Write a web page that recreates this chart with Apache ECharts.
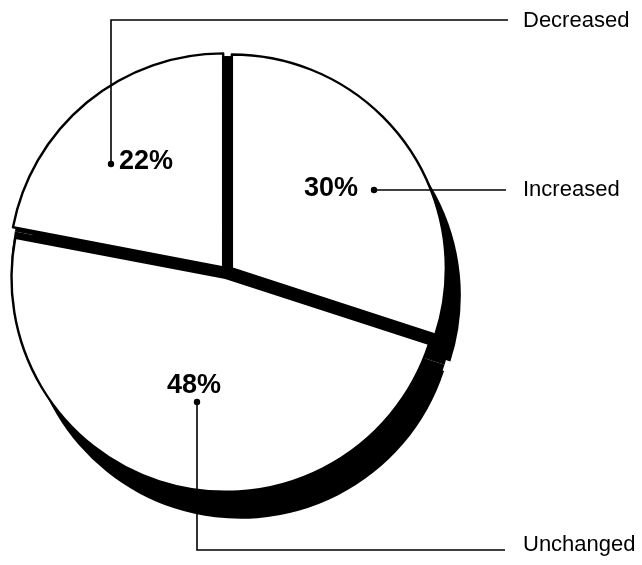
<!DOCTYPE html>
<html>
<head>
<meta charset="utf-8">
<script src="https://cdn.jsdelivr.net/npm/echarts@6/dist/echarts.min.js"></script>
<style>
html,body{margin:0;padding:0;background:#fff;}
#chart{width:642px;height:565px;}
</style>
</head>
<body>
<div id="chart"></div>
<script>
// ---- data ----
const categories = ['Increased', 'Unchanged', 'Decreased'];
const values = [30, 48, 22];

// ---- layout (annotation positions in px) ----
const CENTER = [227, 272];
const RADIUS = 214;
const SHADOW_SHIFT = [15, 27];
const EXPLODE = 6;
const annot = [
  { pct: [331, 189], dot: [374, 190], mid: [440, 190], end: [506, 190], name: [523, 190] },
  { pct: [194, 386], dot: [197, 402], mid: [197, 550], end: [505, 550], name: [523, 545] },
  { pct: [146, 162], dot: [111, 164], mid: [111, 20],  end: [508, 20],  name: [523, 21] }
];

const FONT = '"Liberation Sans", Arial, Helvetica, sans-serif';
const SHADOW_CENTER = [CENTER[0] + SHADOW_SHIFT[0], CENTER[1] + SHADOW_SHIFT[1]];

function sliceData(selected) {
  return categories.map((c, i) => ({ name: c, value: values[i], selected: selected }));
}

const chart = echarts.init(document.getElementById('chart'), null, { renderer: 'canvas' });

const common = {
  type: 'pie',
  startAngle: 90,
  clockwise: true,
  radius: [0, RADIUS],
  avoidLabelOverlap: false,
  emphasis: { disabled: true },
  animation: false
};

const blackNoLabel = {
  silent: true,
  label: { show: false },
  labelLine: { show: false },
  itemStyle: { color: '#000', borderWidth: 0 },
  select: { itemStyle: { color: '#000', borderWidth: 0 } }
};

chart.setOption({
  backgroundColor: '#fff',
  animation: false,
  series: [
    // shadow base (non-exploded, shifted)
    Object.assign({}, common, blackNoLabel, {
      name: 'shadowBase',
      z: 1,
      center: SHADOW_CENTER,
      radius: [0, RADIUS - 1],
      data: sliceData(false)
    }),
    // shadow (exploded black slices, shifted)
    Object.assign({}, common, blackNoLabel, {
      name: 'shadow',
      z: 1,
      center: SHADOW_CENTER,
      selectedMode: 'multiple',
      selectedOffset: EXPLODE,
      data: sliceData(true)
    }),
    // black base disk showing through the gaps
    Object.assign({}, common, blackNoLabel, {
      name: 'base',
      z: 2,
      center: CENTER,
      radius: [0, RADIUS + 2],
      data: sliceData(false)
    }),
    // white exploded slices
    Object.assign({}, common, {
      name: 'slices',
      z: 3,
      center: CENTER,
      selectedMode: 'multiple',
      selectedOffset: EXPLODE,
      silent: true,
      itemStyle: { color: '#fff', borderColor: '#000', borderWidth: 2.4 },
      select: { itemStyle: { color: '#fff', borderColor: '#000', borderWidth: 2.4 } },
      label: { show: false },
      labelLine: { show: false },
      data: sliceData(true)
    }),
    // percentage labels
    Object.assign({}, common, {
      name: 'percent',
      z: 10,
      center: CENTER,
      silent: true,
      itemStyle: { color: 'rgba(0,0,0,0)', borderWidth: 0 },
      label: {
        show: true,
        position: 'outside',
        formatter: p => p.value + '%',
        fontFamily: FONT,
        fontWeight: 'bold',
        fontSize: 27,
        color: '#000'
      },
      labelLine: { show: false },
      labelLayout: p => ({
        x: annot[p.dataIndex].pct[0],
        y: annot[p.dataIndex].pct[1],
        align: 'center',
        verticalAlign: 'middle'
      }),
      data: sliceData(false)
    }),
    // category names with elbow leader lines
    Object.assign({}, common, {
      name: 'names',
      z: 10,
      center: CENTER,
      silent: true,
      itemStyle: { color: 'rgba(0,0,0,0)', borderWidth: 0 },
      label: {
        show: true,
        position: 'outside',
        formatter: p => p.name,
        fontFamily: FONT,
        fontSize: 22,
        color: '#000'
      },
      labelLine: { show: true, smooth: false, lineStyle: { color: '#000', width: 1.6 } },
      labelLayout: p => {
        const a = annot[p.dataIndex];
        return {
          x: a.name[0],
          y: a.name[1],
          align: 'left',
          verticalAlign: 'middle',
          labelLinePoints: [a.dot, a.mid, a.end]
        };
      },
      data: sliceData(false)
    })
  ],
  graphic: annot.map(a => ({
    type: 'circle',
    shape: { cx: a.dot[0], cy: a.dot[1], r: 3.2 },
    style: { fill: '#000' },
    z: 100
  }))
});
</script>
</body>
</html>
